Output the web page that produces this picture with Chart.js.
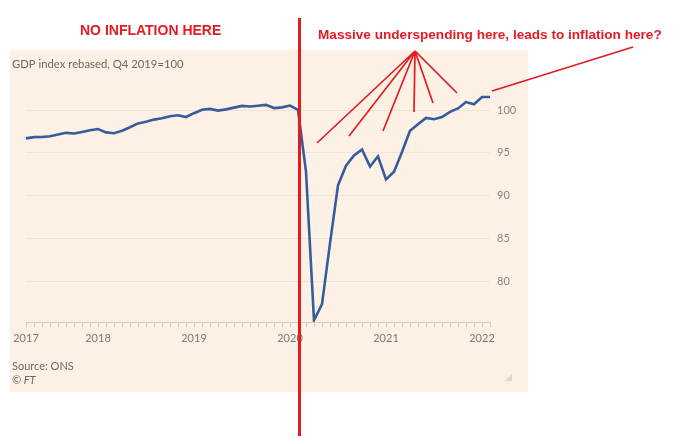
<!DOCTYPE html>
<html>
<head>
<meta charset="utf-8">
<script src="https://cdn.jsdelivr.net/npm/chart.js@4"></script>
<style>
  html, body { margin: 0; padding: 0; background: #fff; }
  #wrap { width: 680px; height: 444px; }
</style>
</head>
<body>
<div id="wrap"><canvas id="myChart" width="680" height="444"></canvas></div>
<script>
// monthly UK GDP, Q4 2019 = 100
const months = [
  'Apr 2017','May 2017','Jun 2017','Jul 2017','Aug 2017','Sep 2017','Oct 2017','Nov 2017','Dec 2017',
  'Jan 2018','Feb 2018','Mar 2018','Apr 2018','May 2018','Jun 2018','Jul 2018','Aug 2018','Sep 2018','Oct 2018','Nov 2018','Dec 2018',
  'Jan 2019','Feb 2019','Mar 2019','Apr 2019','May 2019','Jun 2019','Jul 2019','Aug 2019','Sep 2019','Oct 2019','Nov 2019','Dec 2019',
  'Jan 2020','Feb 2020','Mar 2020','Apr 2020','May 2020','Jun 2020','Jul 2020','Aug 2020','Sep 2020','Oct 2020','Nov 2020','Dec 2020',
  'Jan 2021','Feb 2021','Mar 2021','Apr 2021','May 2021','Jun 2021','Jul 2021','Aug 2021','Sep 2021','Oct 2021','Nov 2021','Dec 2021',
  'Jan 2022','Feb 2022'
];
const gdp = [
  96.7, 96.85, 96.87, 96.95, 97.15, 97.35, 97.27, 97.45, 97.65,
  97.8, 97.4, 97.3, 97.6, 98.0, 98.45, 98.65, 98.9, 99.05, 99.3, 99.4, 99.2,
  99.65, 100.05, 100.15, 99.95, 100.1, 100.3, 100.5, 100.43, 100.52, 100.62, 100.25, 100.33,
  100.55, 100.05, 92.8, 75.4, 77.3, 84.4, 91.2, 93.5, 94.7, 95.4, 93.4, 94.6,
  91.9, 92.8, 95.1, 97.6, 98.35, 99.1, 98.95, 99.2, 99.8, 100.2, 100.95, 100.7,
  101.55, 101.55
];
const yTicks = [80, 85, 90, 95, 100];

const RED = '#e31b23';
const GREY = '#6e6862';

// beige panel + texts of the FT chart, and the hand-drawn red notes on top
const ftDecor = {
  id: 'ftDecor',
  beforeDraw(chart) {
    const ctx = chart.ctx;
    ctx.save();
    ctx.fillStyle = '#fdf0e5';
    ctx.fillRect(10, 50, 518, 342);
    ctx.fillStyle = GREY;
    ctx.textBaseline = 'middle';
    ctx.font = '11.3px Lato';
    ctx.fillText('GDP index rebased, Q4 2019=100', 12, 64);
    ctx.font = '11px Lato';
    ctx.fillText('Source: ONS', 12, 366);
    ctx.font = 'italic 11px Lato';
    ctx.fillText('\u00A9 FT', 12, 380);
    // little grip mark bottom right
    ctx.fillStyle = '#e2d6cb';
    ctx.beginPath();
    ctx.moveTo(512, 374); ctx.lineTo(512, 381); ctx.lineTo(505, 381);
    ctx.closePath(); ctx.fill();
    ctx.restore();
  },
  afterDraw(chart) {
    const ctx = chart.ctx;
    ctx.save();
    ctx.strokeStyle = RED;
    ctx.lineWidth = 3;
    ctx.beginPath();
    ctx.moveTo(299.5, 18); ctx.lineTo(299.5, 436);
    ctx.stroke();

    ctx.lineWidth = 1.7;
    const apex = [415, 51];
    const ends = [[317, 143], [349, 136], [383, 131], [414, 112], [433, 103], [457, 93]];
    ctx.beginPath();
    ends.forEach(e => { ctx.moveTo(apex[0], apex[1]); ctx.lineTo(e[0], e[1]); });
    ctx.moveTo(492, 91); ctx.lineTo(633, 47);
    ctx.stroke();

    ctx.fillStyle = RED;
    ctx.textBaseline = 'middle';
    ctx.font = 'bold 14px "Liberation Sans"';
    ctx.fillText('NO INFLATION HERE', 80, 31);
    ctx.font = 'bold 13.6px "Liberation Sans"';
    ctx.fillText('Massive underspending here, leads to inflation here?', 318, 35);
    ctx.restore();
  }
};

const ctx = document.getElementById('myChart').getContext('2d');
const myChart = new Chart(ctx, {
  type: 'line',
  data: {
    labels: months,
    datasets: [{
      label: 'GDP',
      data: gdp,
      borderColor: '#355d9c',
      borderWidth: 2.6,
      pointRadius: 0,
      tension: 0,
      fill: false
    }]
  },
  options: {
    responsive: false,
    animation: false,
    layout: { padding: { left: 26, right: 160, top: 88, bottom: 92 } },
    plugins: {
      legend: { display: false },
      tooltip: { enabled: false }
    },
    scales: {
      x: {
        type: 'category',
        offset: false,
        grid: { drawOnChartArea: false, drawTicks: true, tickLength: 5, color: '#d8ccc1' },
        border: { display: true, color: '#d8ccc1' },
        ticks: {
          autoSkip: false,
          maxRotation: 0,
          padding: 5,
          color: '#7d7771',
          font: { family: 'Lato', size: 11 },
          callback: function (value, index) {
            const l = this.getLabelForValue(value);
            return (index === 0 || l.startsWith('Jan')) ? l.slice(4) : '';
          }
        },
        afterFit(scale) { scale.height = 30; }
      },
      y: {
        position: 'right',
        min: 75.2,
        max: 102.6,
        grid: { drawTicks: false, color: '#f1e3d7' },
        border: { display: false },
        ticks: {
          padding: 7,
          color: '#8a847e',
          font: { family: 'Lato', size: 11 }
        },
        afterBuildTicks(scale) { scale.ticks = yTicks.map(v => ({ value: v })); },
        afterFit(scale) { scale.width = 30; }
      }
    }
  },
  plugins: [ftDecor]
});
</script>
</body>
</html>
